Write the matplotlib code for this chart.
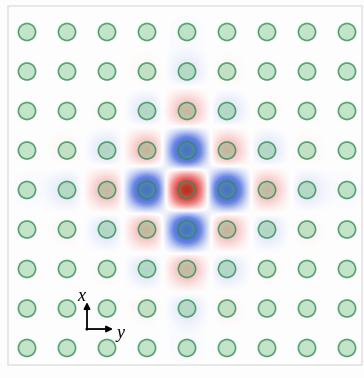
import matplotlib.pyplot as plt
import numpy as np
from matplotlib.colors import LinearSegmentedColormap
from matplotlib.patches import Circle, Rectangle

# lattice sites (-4..4 in both directions)
sites = np.arange(-4, 5)

# amplitude of the localized state on each shell of sites, (|dx|, |dy|) -> value
shell_offsets = [(0, 0), (1, 0), (1, 1), (2, 0), (2, 1), (3, 0), (2, 2), (3, 1), (4, 0)]
shell_amps = [1.0, -0.78, 0.28, 0.26, -0.09, -0.08, 0.02, 0.03, -0.02]

amp = dict(zip(shell_offsets, shell_amps))


def site_amp(i, j):
    key = tuple(sorted((abs(i), abs(j)), reverse=True))
    return amp.get(key, 0.0)


fig = plt.figure(figsize=(3.64, 3.78), dpi=100)
ax = fig.add_axes([0, 0, 1, 1])
xlim = (-4.675, 4.425)
ylim = (-4.76, 4.81)
extent = [xlim[0], xlim[1], ylim[0], ylim[1]]

# continuous field: one gaussian blob per site
gx = np.linspace(xlim[0], xlim[1], 500)
gy = np.linspace(ylim[0], ylim[1], 520)
X, Y = np.meshgrid(gx, gy)
sigma = 0.32
field = np.zeros_like(X)
for i in sites:
    for j in sites:
        a = site_amp(i, j)
        if a:
            field += a * np.exp(-((X - j) ** 2 + (Y - i) ** 2) / (2 * sigma ** 2))

cmap = LinearSegmentedColormap.from_list(
    'wf', [(0.0, '#1c45c8'), (0.3, '#6a86e2'), (0.5, '#ffffff'),
           (0.7, '#f08a8a'), (1.0, '#cc0808')])
ax.imshow(field, extent=extent, origin='lower', cmap=cmap, vmin=-1.0, vmax=1.0,
          interpolation='bilinear', aspect='auto', zorder=0)

# atoms: translucent fill
for i in sites:
    for j in sites:
        ax.add_patch(Circle((j, i), 0.215, facecolor=(0.45, 0.76, 0.50, 0.42),
                            edgecolor='none', zorder=1))

# field again on top of the fills, opacity follows |field|
rgba = cmap((field + 1.0) / 2.0)
rgba[..., 3] = np.clip(np.abs(field) * 0.55, 0, 0.55)
ax.imshow(rgba, extent=extent, origin='lower', interpolation='bilinear',
          aspect='auto', zorder=2)

# atom outlines
for i in sites:
    for j in sites:
        ax.add_patch(Circle((j, i), 0.215, facecolor='none',
                            edgecolor=(0.20, 0.56, 0.33, 0.8), lw=1.2, zorder=3))

# frame
ax.add_patch(Rectangle((-4.475, -4.43), 8.85, 9.09, fill=False,
                       edgecolor='#e4e4e4', lw=1.2, zorder=3))

# coordinate axes
ox, oy = -2.5, -3.52
ax.annotate('', xy=(ox, -2.84), xytext=(ox, oy - 0.02),
            arrowprops=dict(arrowstyle='-|>', color='black', lw=1.3, mutation_scale=9,
                            shrinkA=0, shrinkB=0), zorder=4)
ax.annotate('', xy=(-1.85, oy), xytext=(ox - 0.02, oy),
            arrowprops=dict(arrowstyle='-|>', color='black', lw=1.3, mutation_scale=9,
                            shrinkA=0, shrinkB=0), zorder=4)
ax.text(-2.65, -2.7, 'x', fontsize=13, style='italic', family='Liberation Serif',
        ha='center', va='center', zorder=4)
ax.text(-1.67, -3.64, 'y', fontsize=13, style='italic', family='Liberation Serif',
        ha='center', va='center', zorder=4)

ax.set_xlim(*xlim)
ax.set_ylim(*ylim)
ax.axis('off')
fig.savefig('out.png', dpi=100)
